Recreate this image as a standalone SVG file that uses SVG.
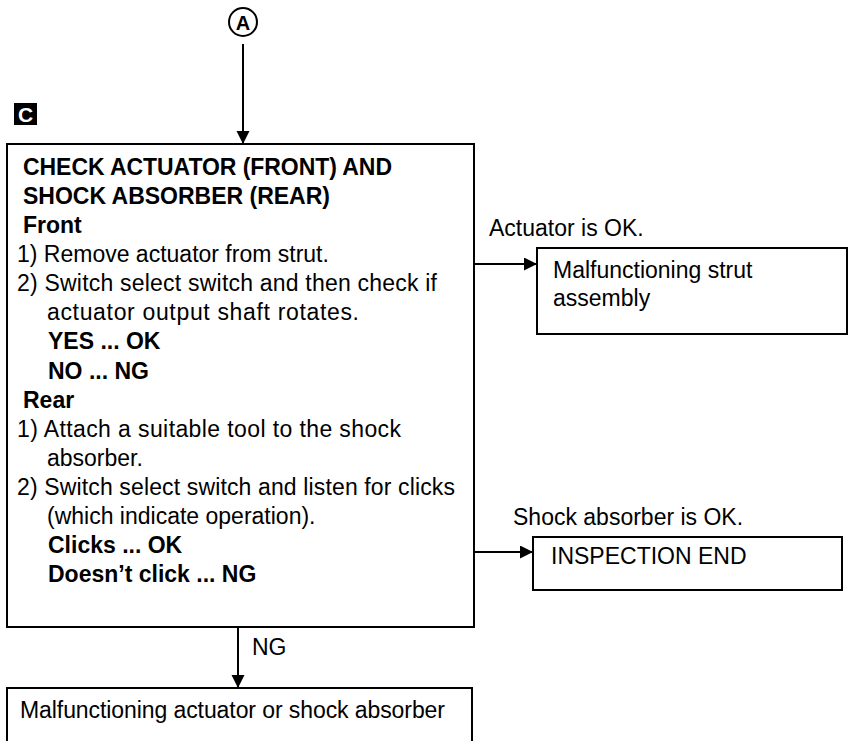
<svg xmlns="http://www.w3.org/2000/svg" width="849" height="741" viewBox="0 0 849 741">
<style>
  .box { fill: #fff; stroke: #000; stroke-width: 2; }
  .ln { fill: none; stroke: #000; stroke-width: 2; }
  .t { font-family: "Liberation Sans", Arial, sans-serif; font-size: 23px; fill: #000; }
  .b { font-weight: bold; }
</style>
<defs>
  <marker id="arr" markerUnits="userSpaceOnUse" markerWidth="14" markerHeight="14" refX="13" refY="6.5" orient="auto">
    <path d="M0,0 L13,6.5 L0,13 Z" fill="#000"/>
  </marker>
</defs>
<rect width="849" height="741" fill="#fff"/>

<g id="start-A">
  <circle cx="243" cy="22" r="14" fill="#fff" stroke="#000" stroke-width="2"/>
  <text x="243" y="29.5" text-anchor="middle" class="t b" style="font-size:20px">A</text>
</g>

<g id="label-C">
  <rect x="14" y="103" width="23" height="22" fill="#000"/>
  <text x="25.5" y="122" text-anchor="middle" class="b" style="font-family:'Liberation Sans',Arial,sans-serif;font-size:21px;fill:#fff">C</text>
</g>

<g id="connectors">
  <line x1="243" y1="44" x2="243" y2="144" class="ln" marker-end="url(#arr)"/>
  <line x1="474" y1="264" x2="537" y2="264" class="ln" marker-end="url(#arr)"/>
  <line x1="474" y1="552" x2="533" y2="552" class="ln" marker-end="url(#arr)"/>
  <line x1="238" y1="627" x2="238" y2="688" class="ln" marker-end="url(#arr)"/>
  <text x="489" y="236" class="t">Actuator is OK.</text>
  <text x="513" y="525" class="t">Shock absorber is OK.</text>
  <text x="252" y="655" class="t">NG</text>
</g>

<g id="check-box">
  <rect x="7" y="144" width="467" height="483" class="box"/>
  <text class="t b" x="23" y="175" textLength="369">CHECK ACTUATOR (FRONT) AND</text>
  <text class="t b" x="23" y="204.1" textLength="307">SHOCK ABSORBER (REAR)</text>
  <text class="t b" x="23" y="233.1">Front</text>
  <text class="t" x="17" y="262.2">1) Remove actuator from strut.</text>
  <text class="t" x="17" y="291.3" textLength="420">2) Switch select switch and then check if</text>
  <text class="t" x="47" y="320.4" textLength="312">actuator output shaft rotates.</text>
  <text class="t b" x="48" y="349.4">YES ... OK</text>
  <text class="t b" x="48" y="378.5">NO ... NG</text>
  <text class="t b" x="23" y="407.6">Rear</text>
  <text class="t" x="17" y="436.6" textLength="384">1) Attach a suitable tool to the shock</text>
  <text class="t" x="47" y="465.7">absorber.</text>
  <text class="t" x="17" y="494.8" textLength="438">2) Switch select switch and listen for clicks</text>
  <text class="t" x="47" y="523.8">(which indicate operation).</text>
  <text class="t b" x="48" y="552.9">Clicks ... OK</text>
  <text class="t b" x="48" y="582">Doesn’t click ... NG</text>
</g>

<g id="strut-box">
  <rect x="537" y="248" width="310" height="86" class="box"/>
  <text class="t" x="553" y="278">Malfunctioning strut</text>
  <text class="t" x="553" y="306">assembly</text>
</g>

<g id="end-box">
  <rect x="533" y="537" width="309" height="53" class="box"/>
  <text class="t" x="551" y="564">INSPECTION END</text>
</g>

<g id="malfunction-box">
  <rect x="7" y="688" width="465" height="60" class="box"/>
  <text class="t" x="20" y="718" textLength="425">Malfunctioning actuator or shock absorber</text>
</g>
</svg>
